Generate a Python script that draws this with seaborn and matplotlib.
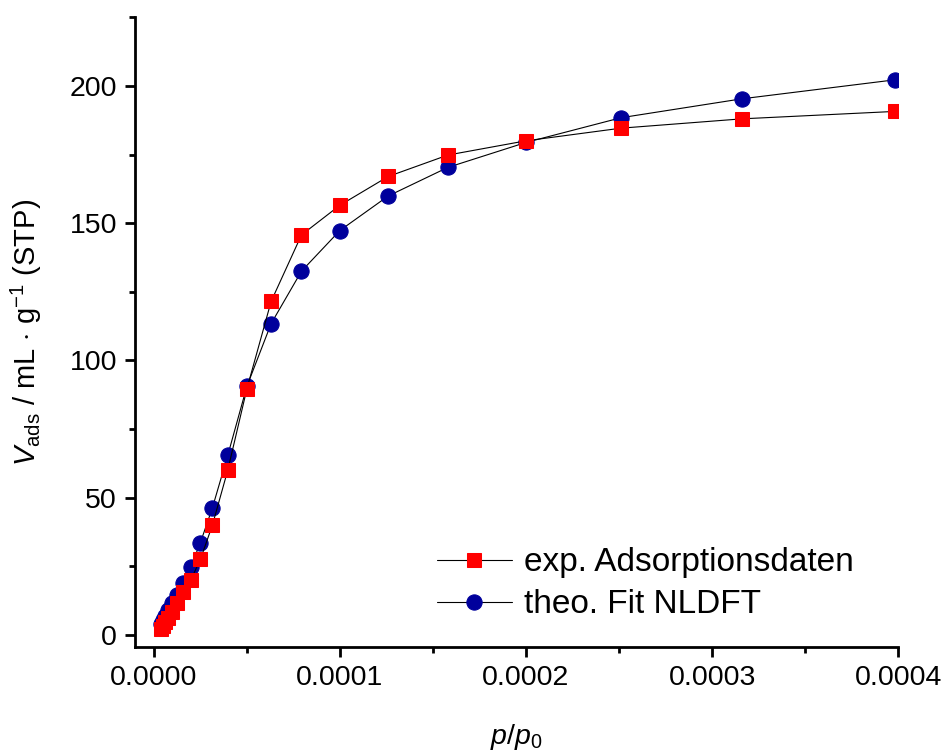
import numpy as np
import pandas as pd
import seaborn as sns
import matplotlib.pyplot as plt
from matplotlib.ticker import MultipleLocator, FormatStrFormatter

# relative pressure points (log spaced)
p_rel = [3.98e-6, 5.01e-6, 6.31e-6, 7.94e-6, 1.0e-5, 1.26e-5, 1.58e-5, 2.0e-5,
         2.51e-5, 3.16e-5, 3.98e-5, 5.01e-5, 6.31e-5, 7.94e-5, 1.0e-4, 1.26e-4,
         1.58e-4, 2.0e-4, 2.51e-4, 3.16e-4, 3.98e-4]
# adsorbed volume, mL/g (STP)
v_exp = [2.0, 3.3, 4.6, 6.3, 8.5, 11.5, 15.5, 20.1, 27.5, 40.1, 60.0, 89.7,
         121.5, 145.7, 156.5, 167.0, 174.8, 180.0, 184.6, 188.0, 190.7]
v_fit = [4.0, 5.3, 7.0, 9.0, 11.5, 14.6, 18.9, 24.9, 33.6, 46.4, 65.4, 90.6,
         113.4, 132.5, 147.3, 159.9, 170.3, 179.4, 188.4, 195.3, 202.2]

df = pd.DataFrame({'p': p_rel, 'exp': v_exp, 'fit': v_fit})

sns.set_style('ticks')
plt.rcParams['font.family'] = ['Liberation Sans', 'DejaVu Sans']
plt.rcParams['mathtext.fontset'] = 'custom'
plt.rcParams['mathtext.rm'] = 'Liberation Sans'
plt.rcParams['mathtext.it'] = 'Liberation Sans:italic'
for k in ['text.color', 'axes.labelcolor', 'xtick.color', 'ytick.color', 'axes.edgecolor']:
    plt.rcParams[k] = 'black'

fig = plt.figure(figsize=(9.47, 7.51), dpi=100)
ax = fig.add_axes([0.1426, 0.1385, 0.806, 0.8385])

sns.lineplot(data=df, x='p', y='fit', ax=ax, color='black', lw=0.8,
             marker='o', markersize=11, markerfacecolor='#00009C',
             markeredgecolor='#00009C', label='theo. Fit NLDFT')
sns.lineplot(data=df, x='p', y='exp', ax=ax, color='black', lw=0.8,
             marker='s', markersize=10, markerfacecolor='#FF0000',
             markeredgecolor='#FF0000', label='exp. Adsorptionsdaten')

ax.set_xlim(-0.00001, 0.0004)
ax.set_ylim(-4.4, 225)
ax.xaxis.set_major_locator(MultipleLocator(0.0001))
ax.xaxis.set_minor_locator(MultipleLocator(0.00005))
ax.yaxis.set_major_locator(MultipleLocator(50))
ax.yaxis.set_minor_locator(MultipleLocator(25))
ax.xaxis.set_major_formatter(FormatStrFormatter('%.4f'))
ax.yaxis.set_major_formatter(FormatStrFormatter('%d'))

sns.despine(ax=ax)
for s in ['left', 'bottom']:
    ax.spines[s].set_linewidth(2)
ax.tick_params(which='major', direction='out', length=7, width=2,
               labelsize=20.5, pad=6)
ax.tick_params(which='minor', direction='out', length=4, width=2)

ax.set_xlabel(r'$p/p_0$', fontsize=20.5, labelpad=22)
ax.set_ylabel(r'$V_{\rm ads}$ / mL $\cdot$ g$^{-1}$ (STP)', fontsize=21,
              labelpad=18)

h, l = ax.get_legend_handles_labels()
ax.legend(h[::-1], l[::-1], loc='lower right', frameon=False, fontsize=24,
          handlelength=2.25, handletextpad=0.36, labelspacing=0.33,
          borderpad=0.3, bbox_to_anchor=(0.976, 0.0))

fig.savefig('out.png', dpi=100)
